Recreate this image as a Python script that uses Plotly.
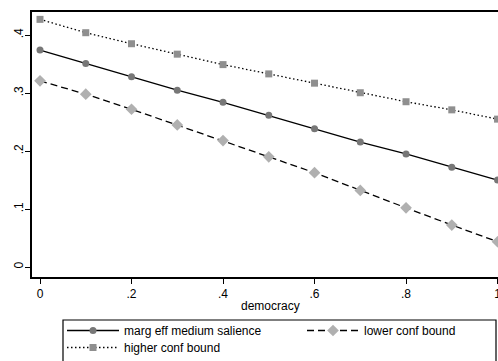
import plotly.graph_objects as go

democracy = [0, 0.1, 0.2, 0.3, 0.4, 0.5, 0.6, 0.7, 0.8, 0.9, 1.0]
marg_eff = [0.374, 0.351, 0.328, 0.305, 0.284, 0.2615, 0.2385, 0.2155, 0.195, 0.172, 0.150]
lower_bound = [0.321, 0.298, 0.272, 0.245, 0.218, 0.190, 0.1626, 0.132, 0.102, 0.0724, 0.0436]
upper_bound = [0.427, 0.404, 0.385, 0.367, 0.349, 0.333, 0.317, 0.3005, 0.285, 0.271, 0.255]

x_ticks = [0, 0.2, 0.4, 0.6, 0.8, 1.0]
x_ticklabels = ["0", ".2", ".4", ".6", ".8", "1"]
y_ticks = [0, 0.1, 0.2, 0.3, 0.4]
y_ticklabels = ["0", ".1", ".2", ".3", ".4"]

FONT = "Liberation Sans, Arial, sans-serif"
W, H = 498, 361
L, T, B_AX = 32, 12, 277  # plot area pixel edges
PW, PH = W - L, B_AX - T


def px_x(p):
    return (p - L) / PW


def px_y(p):
    return (B_AX - p) / PH


fig = go.Figure()
fig.add_trace(go.Scatter(
    x=democracy, y=marg_eff, mode="lines+markers", name="marg eff medium salience",
    line=dict(color="black", width=1.3),
    marker=dict(symbol="circle", size=7, color="#777777"),
    legend="legend",
))
fig.add_trace(go.Scatter(
    x=democracy, y=lower_bound, mode="lines+markers", name="lower conf bound",
    line=dict(color="black", width=1.3, dash="7px,4px"),
    marker=dict(symbol="diamond", size=9, color="#b0b0b0"),
    legend="legend2",
))
fig.add_trace(go.Scatter(
    x=democracy, y=upper_bound, mode="lines+markers", name="higher conf bound",
    line=dict(color="black", width=1.3, dash="1.5px,2.5px"),
    marker=dict(symbol="square", size=7, color="#8f8f8f"),
    legend="legend3",
))

fig.add_annotation(
    text="democracy", xref="paper", yref="paper",
    x=px_x(270), y=px_y(306),
    xanchor="center", yanchor="middle", showarrow=False,
    font=dict(size=12, family=FONT, color="black"),
)

# legend frame
fig.add_shape(
    type="rect", xref="paper", yref="paper",
    x0=px_x(63), x1=px_x(496), y0=px_y(320), y1=px_y(372),
    line=dict(color="black", width=1.2), fillcolor="rgba(0,0,0,0)", layer="above",
)

leg_common = dict(
    orientation="v", xref="paper", yref="paper",
    xanchor="left", yanchor="top", borderwidth=0,
    bgcolor="rgba(0,0,0,0)", font=dict(size=12), itemwidth=52,
)

fig.update_layout(
    width=W, height=H,
    margin=dict(l=L, r=0, t=T, b=H - B_AX, autoexpand=False),
    paper_bgcolor="white", plot_bgcolor="white",
    font=dict(family=FONT, size=12, color="black"),
    xaxis=dict(
        range=[-0.0175, 1.001], tickvals=x_ticks, ticktext=x_ticklabels,
        showline=True, linecolor="black", linewidth=2, mirror=True,
        ticks="outside", ticklen=5, tickwidth=1.2, tickcolor="black",
        showgrid=False, zeroline=False, ticklabeloverflow="allow",
        tickfont=dict(size=12),
    ),
    yaxis=dict(
        range=[-0.0172, 0.4397], tickvals=y_ticks, ticktext=y_ticklabels,
        showline=True, linecolor="black", linewidth=2,
        ticks="outside", ticklen=5, tickwidth=1.2, tickcolor="black",
        showgrid=False, zeroline=False, tickangle=-90,
        ticklabelstandoff=-3,
        tickfont=dict(size=12),
    ),
    legend=dict(x=px_x(62), y=px_y(316), **leg_common),
    legend2=dict(x=px_x(302), y=px_y(316), **leg_common),
    legend3=dict(x=px_x(62), y=px_y(333), **leg_common),
    showlegend=True,
)

fig.write_html("out.html")
